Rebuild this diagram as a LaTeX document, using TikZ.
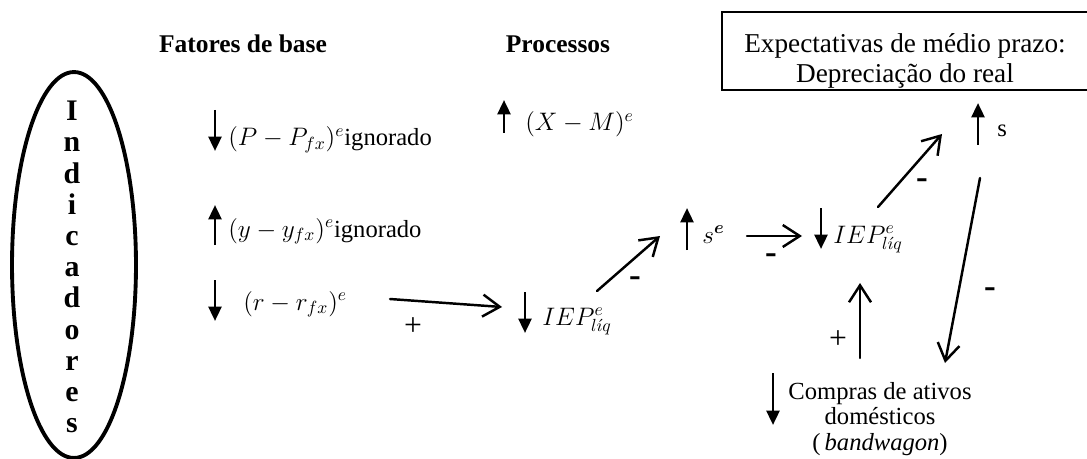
\documentclass[tikz,border=0pt]{standalone}
\usepackage{amsmath,amssymb}
\usepackage{fontspec}
\setmainfont{Liberation Serif}
\usetikzlibrary{arrows.meta,shapes.geometric}
\tikzset{
  indarr/.style={-{Triangle[length=2.9mm,width=2.6mm]},line width=1.6pt},
  flowarr/.style={-{Straight Barb[length=3.4mm,width=4.4mm]},line width=1.4pt,line cap=round},
  termtxt/.style={anchor=base west,inner sep=0pt,font=\fontsize{14}{17}\selectfont},
  headtxt/.style={anchor=base,inner sep=0pt,font=\fontsize{14.5}{17}\selectfont\bfseries},
  plustxt/.style={inner sep=0pt,font=\fontsize{18}{18}\selectfont},
  minustxt/.style={inner sep=0pt,font=\fontsize{20}{20}\selectfont\bfseries},
  indell/.style={draw,ellipse,line width=2.2pt,minimum width=2.48cm,minimum height=7.72cm,inner sep=0pt},
  indtxt/.style={align=center,inner sep=0pt,font=\fontsize{17}{17.75}\selectfont\bfseries},
  mainbox/.style={draw,line width=1.1pt,minimum width=7.32cm,minimum height=1.56cm,align=center,inner sep=0pt,font=\fontsize{15.5}{17}\selectfont},
  blocktxt/.style={align=center,inner sep=0pt,font=\fontsize{14}{14.7}\selectfont}
}

\begin{document}
\begin{tikzpicture}[x=0.02cm,y=-0.02cm]
  \useasboundingbox (0,0) rectangle (1087,459);
  \clip (0,0) rectangle (1087,459);
  % indicadores
  \node[indell] (ind) at (74,265) {};
  \node[indtxt] (indlet) at (72,267) {I\\n\\d\\i\\c\\a\\d\\o\\r\\e\\s};
  % titulos
  \node[headtxt] (fat) at (243,53) {Fatores de base};
  \node[headtxt] (proc) at (558,53) {Processos};
  \node[mainbox] (expbox) at (905,51) {\rule{0pt}{0.76cm}Expectativas de médio prazo:\\Depreciação do real};
  % fatores de base
  \node[termtxt] (pp) at (228,146) {$(P-P_{fx})^e$ignorado};
  \draw[indarr] (215,110) -- (215,151);
  \node[termtxt] (yy) at (228,237) {$(y-y_{fx})^e$ignorado};
  \draw[indarr] (215,245) -- (215,205);
  \node[termtxt] (rr) at (243,310) {$(r-r_{fx})^e$};
  \draw[indarr] (215,280) -- (215,321);
  % processos
  \node[termtxt] (xm) at (525,131) {$(X-M)^e$};
  \draw[indarr] (504,133) -- (504,100);
  \node[termtxt] (iepA) at (542,325) {$IEP^e_{l\acute{\imath}q}$};
  \draw[indarr] (525,292) -- (525,333);
  \node[termtxt] (se) at (702,243) {$s^{\boldsymbol{e}}$};
  \draw[indarr] (687,250) -- (687,208);
  \node[termtxt] (iepB) at (833,243) {$IEP^e_{l\acute{\imath}q}$};
  \draw[indarr] (821,208) -- (821,249);
  \node[termtxt] (ss) at (997,137) {s};
  \draw[indarr] (978,145) -- (978,103);
  \node[blocktxt] (comp) at (880,419) {Compras de ativos\\domésticos\\(\,\textit{bandwagon})};
  \draw[indarr] (773,373) -- (773,425);
  % ligacoes
  \coordinate (a1) at (390,299);
  \coordinate (a2) at (502,307);
  \coordinate (b1) at (597,291);
  \coordinate (b2) at (660,236);
  \coordinate (c1) at (747,236);
  \coordinate (c2) at (802,236);
  \coordinate (d1) at (860,358);
  \coordinate (d2) at (860,283);
  \coordinate (e1) at (878,207);
  \coordinate (e2) at (942,134);
  \coordinate (f1) at (980,178);
  \coordinate (f2) at (945,363);
  \draw[flowarr] (a1) -- (a2);
  \draw[flowarr] (b1) -- (b2);
  \draw[flowarr] (c1) -- (c2);
  \draw[flowarr] (d1) -- (d2);
  \draw[flowarr] (e1) -- (e2);
  \draw[flowarr] (f1) -- (f2);
  \node[plustxt] (sgA) at (413,327) {+};
  \node[minustxt] (sgB) at (635,282) {-};
  \node[minustxt] (sgC) at (771,259) {-};
  \node[plustxt] (sgD) at (838,340) {+};
  \node[minustxt] (sgE) at (922,184) {-};
  \node[minustxt] (sgF) at (990,293) {-};
\end{tikzpicture}
\end{document}
